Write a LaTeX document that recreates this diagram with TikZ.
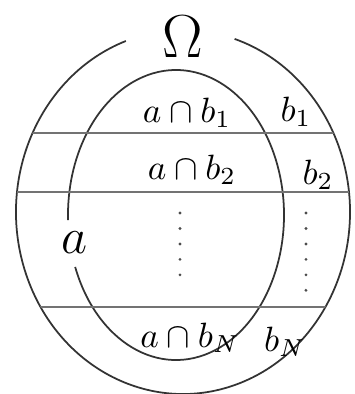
\documentclass[tikz,border=0pt]{standalone}
\usepackage{amsmath,amssymb}
\usetikzlibrary{positioning}

\begin{document}
\begin{tikzpicture}[
    set/.style={line width=0.5pt, draw=black!80},
    cut/.style={line width=0.45pt, draw=black!55},
    lbl/.style={inner sep=1pt, font=\normalsize},
    dotcol/.style={line width=0.9pt, line cap=round, dash pattern=on 0pt off 4.4pt, draw=black!70}
]
\useasboundingbox (0,0) rectangle (3.55,3.94);

% Sets
\coordinate (omc) at (1.83,1.82);
\coordinate (ac) at (1.76,1.79);
\draw[set] (omc) ++(110:1.67 and 1.82) arc[start angle=110, end angle=432, x radius=1.67, y radius=1.82];
\draw[set] (ac) ++(201:1.08 and 1.45) arc[start angle=201, end angle=542, x radius=1.08, y radius=1.45];

% Partition b_1, b_2, ..., b_N
\begin{scope}
\clip (omc) ellipse [x radius=1.67, y radius=1.82];
\draw[cut] (0,2.61) -- (3.55,2.61);
\draw[cut] (0,2.02) -- (3.55,2.02);
\draw[cut] (0,0.87) -- (3.55,0.87);
\end{scope}

% Nodes
\node[lbl, font=\LARGE] (omega) at (1.83,3.57) {$\Omega$};
\node[lbl, font=\Large] (seta) at (0.75,1.51) {$a$};
\node[lbl] (ab1) at (1.87,2.81) {$a\cap b_1$};
\node[lbl] (b1) at (2.96,2.82) {$b_1$};
\node[lbl] (ab2) at (1.92,2.24) {$a\cap b_2$};
\node[lbl] (b2) at (3.18,2.19) {$b_2$};
\node[lbl] (abN) at (1.90,0.56) {$a\cap b_N$};
\node[lbl] (bN) at (2.85,0.52) {$b_N$};

% Dots
\coordinate (d1top) at (1.80,1.81);
\coordinate (d1bot) at (1.80,1.04);
\coordinate (d2top) at (3.06,1.81);
\coordinate (d2bot) at (3.06,1.00);
\draw[dotcol] (d1top) -- (d1bot);
\draw[dotcol] (d2top) -- (d2bot);

\end{tikzpicture}
\end{document}
